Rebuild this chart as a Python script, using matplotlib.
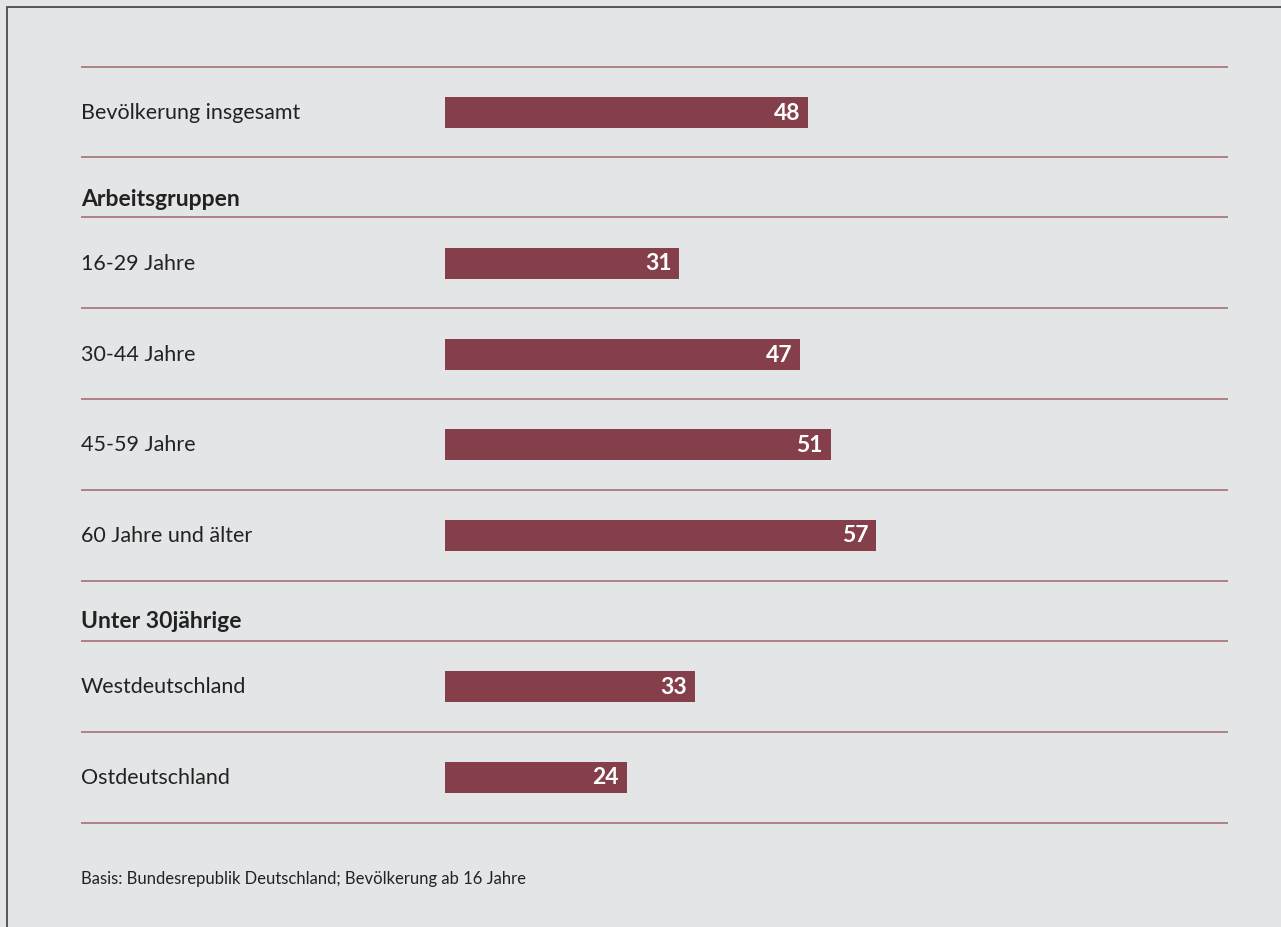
import matplotlib.pyplot as plt
from matplotlib.patches import Rectangle

# Data
labels = ['Bevölkerung insgesamt', '16-29 Jahre', '30-44 Jahre', '45-59 Jahre',
          '60 Jahre und älter', 'Westdeutschland', 'Ostdeutschland']
values = [48, 31, 47, 51, 57, 33, 24]
headings = ['Arbeitsgruppen', 'Unter 30jährige']
footnote = 'Basis: Bundesrepublik Deutschland; Bevölkerung ab 16 Jahre'

# Layout (pixel rows, top-down)
bar_y = [112, 263, 354, 444, 535, 686, 777]
head_y = [199, 622]
sep_y = [67, 157, 217, 308, 399, 490, 581, 641, 732, 823]

W, H = 1281, 927
bg = '#E4E5E7'
bar_color = '#843F4B'
line_color = '#A4646D'

plt.rcParams['font.family'] = ['Lato', 'DejaVu Sans']

fig = plt.figure(figsize=(W / 100, H / 100), dpi=100)
fig.patch.set_facecolor(bg)

# frame: only top and left edges visible
fig.patches.append(Rectangle((7 / W, -0.1), 1.2, (H - 7) / H + 0.1,
                             transform=fig.transFigure, fill=False,
                             edgecolor='#4a4a4a', linewidth=1.3))

# x in percent: 0 at 445 px, 7.5625 px per unit; axes spans 81..1228 px
px_per = 7.5625
x0 = 445
left, right = 81, 1228
ax = fig.add_axes([left / W, 0, (right - left) / W, 1])
ax.set_facecolor('none')
ax.set_xlim((left - x0) / px_per, (right - x0) / px_per)
ax.set_ylim(H, 0)
ax.axis('off')

xmin = (left - x0) / px_per
for y in sep_y:
    ax.axhline(y, color=line_color, linewidth=1.1)

ax.barh(bar_y, values, height=31, left=0, color=bar_color)

for y, lab, v in zip(bar_y, labels, values):
    ax.text(xmin, y + 1, lab, ha='left', va='center', fontsize=15.5, color='#222222')
    ax.annotate(str(v), xy=(v, y), xytext=(-8, -1), textcoords='offset pixels',
                ha='right', va='center', fontsize=16.5, fontweight='bold',
                color='white')

for y, h in zip(head_y, headings):
    ax.text(xmin, y, h, ha='left', va='center', fontsize=16.5,
            fontweight='bold', color='#222222')

ax.text(xmin, 879, footnote, ha='left', va='center', fontsize=12,
        color='#222222')

fig.savefig('out.png', dpi=100, facecolor=bg)
plt.close(fig)
